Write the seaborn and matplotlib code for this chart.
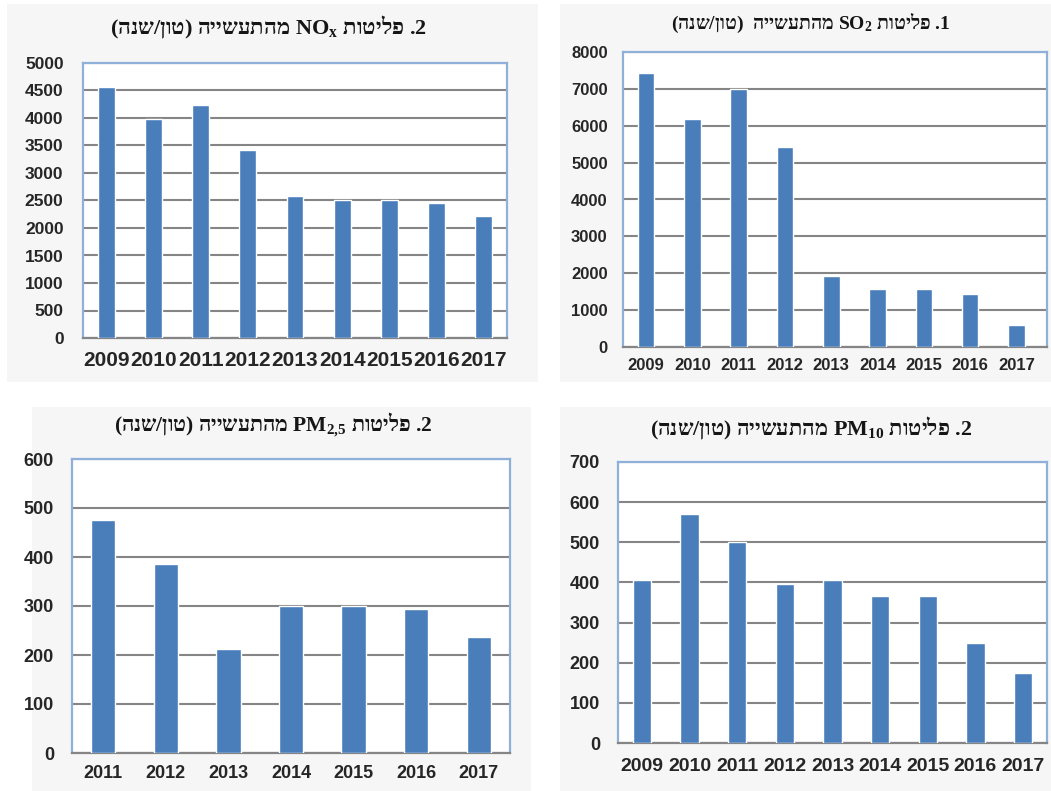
import matplotlib
matplotlib.use("Agg")
import matplotlib.pyplot as plt
import seaborn as sns
import pandas as pd
from matplotlib.patches import Rectangle

# ---------------- data ----------------
years_9 = ["2009", "2010", "2011", "2012", "2013", "2014", "2015", "2016", "2017"]
years_7 = ["2011", "2012", "2013", "2014", "2015", "2016", "2017"]

nox_values = [4570, 3980, 4240, 3420, 2590, 2510, 2510, 2450, 2220]
so2_values = [7430, 6180, 6990, 5430, 1920, 1580, 1580, 1440, 590]
pm25_values = [475, 385, 213, 300, 300, 293, 237]
pm10_values = [405, 570, 500, 395, 405, 365, 365, 250, 175]

# titles written in visual (left-to-right) order for correct Hebrew display
title_nox = "(הנש/ןוט) היישעתהמ $\\mathregular{NO_x}$ תוטילפ .2"
title_so2 = "(הנש/ןוט)  היישעתהמ $\\mathregular{SO_2}$ תוטילפ .1"
title_pm25 = "(הנש/ןוט) היישעתהמ $\\mathregular{PM_{2{,}5}}$ תוטילפ .2"
title_pm10 = "(הנש/ןוט) היישעתהמ $\\mathregular{PM_{10}}$ תוטילפ .2"

nox_ticks = list(range(0, 5001, 500))
so2_ticks = list(range(0, 8001, 1000))
pm25_ticks = list(range(0, 601, 100))
pm10_ticks = list(range(0, 701, 100))

# ---------------- style ----------------
sns.set_theme(style="white")
plt.rcParams["font.family"] = ["Liberation Sans", "DejaVu Sans"]

W, H = 1051, 791
fig = plt.figure(figsize=(W / 100, H / 100), dpi=100)
fig.patch.set_facecolor("white")

BAR = "#4a7ebb"
FRAME = "#8fb0d8"
GRID = "#858585"
PANEL = "#f6f6f6"
TXT = "#262626"

# panel backgrounds (pixel boxes: left, top, right, bottom)
panels = [(7, 4, 538, 382), (560, 4, 1051, 382), (32, 407, 531, 791), (560, 407, 1051, 791)]
for l, t, r, b in panels:
    fig.patches.append(Rectangle((l / W, 1 - b / H), (r - l) / W, (b - t) / H,
                                 transform=fig.transFigure, facecolor=PANEL,
                                 edgecolor="none", zorder=-10))


def make_axes(l, t, r, b):
    return fig.add_axes([l / W, 1 - b / H, (r - l) / W, (b - t) / H])


def draw(ax, cats, vals, ticks, width, xfs, yfs, title, title_xy, tfs, xpad, ypad, xmax_extra=0.0):
    df = pd.DataFrame({"year": cats, "value": vals})
    sns.barplot(data=df, x="year", y="value", order=cats, color=BAR, saturation=1,
                width=width, ax=ax, zorder=3)
    ax.set_facecolor("white")
    ax.set_ylim(ticks[0], ticks[-1])
    ax.set_yticks(ticks)
    ax.set_yticklabels([str(v) for v in ticks])
    ax.set_xlim(-0.5, len(cats) - 0.5 + xmax_extra)
    ax.set_xlabel("")
    ax.set_ylabel("")
    ax.grid(axis="y", color=GRID, linewidth=1.5, zorder=1)
    ax.grid(axis="x", visible=False)
    ax.set_axisbelow(True)
    for s in ["top", "right", "left"]:
        ax.spines[s].set_visible(True)
        ax.spines[s].set_color(FRAME)
        ax.spines[s].set_linewidth(1.6)
    ax.spines["bottom"].set_color(GRID)
    ax.spines["bottom"].set_linewidth(1.6)
    ax.tick_params(axis="x", length=0, pad=xpad, labelsize=xfs, labelcolor=TXT)
    ax.tick_params(axis="y", length=0, pad=ypad, labelsize=yfs, labelcolor=TXT)
    for lab in ax.get_xticklabels() + ax.get_yticklabels():
        lab.set_fontweight("bold")
    fig.text(title_xy[0] / W, 1 - title_xy[1] / H, title, ha="center", va="center",
             fontsize=tfs, fontweight="bold", color="#161616",
             family=["Liberation Serif", "DejaVu Sans"])


ax1 = make_axes(83, 63, 507, 338)
draw(ax1, years_9, nox_values, nox_ticks, 0.36, 15, 12.5, title_nox, (268, 27), 16, 9, 14)

ax2 = make_axes(623, 52, 1047, 347)
draw(ax2, years_9, so2_values, so2_ticks, 0.36, 12, 12, title_so2, (811, 23), 14, 8, 11, 0.16)

ax3 = make_axes(72, 459, 510, 753)
draw(ax3, years_7, pm25_values, pm25_ticks, 0.39, 13, 13, title_pm25, (273, 425), 15.5, 9, 13)

ax4 = make_axes(618, 462, 1047, 743)
draw(ax4, years_9, pm10_values, pm10_ticks, 0.38, 14, 13, title_pm10, (811, 428), 15.8, 11, 13)

fig.savefig("out.png", dpi=100, facecolor="white")
